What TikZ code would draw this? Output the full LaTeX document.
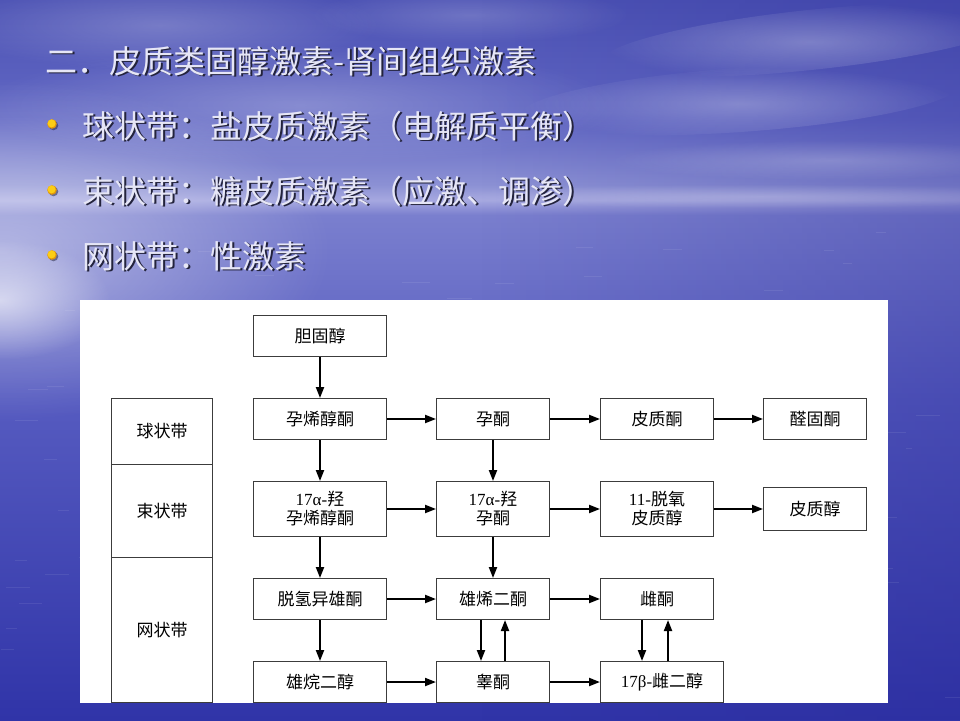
\documentclass[tikz,border=0pt]{standalone}
\usepackage{fontspec}
\setmainfont{Liberation Serif}
\newfontfamily\cjk{Noto Sans CJK SC}
\usetikzlibrary{arrows.meta,calc,fadings}

% sky and sea colours, from the top of the slide down
\definecolor{bgA}{RGB}{76,82,180}
\definecolor{bgB}{RGB}{98,104,196}
\definecolor{bgC}{RGB}{140,145,212}
\definecolor{bgD}{RGB}{166,168,224}
\definecolor{bgE}{RGB}{122,127,206}
\definecolor{bgF}{RGB}{86,91,192}
\definecolor{bgG}{RGB}{48,52,168}
\definecolor{deepblue}{RGB}{40,40,150}
\definecolor{slidefg}{RGB}{230,230,246}
\definecolor{slideshade}{RGB}{35,35,60}
\definecolor{dotyellow}{RGB}{252,205,20}
\definecolor{dotedge}{RGB}{225,150,10}
\definecolor{boxgray}{RGB}{60,60,60}

% the path fits the band 25bp..75bp of the shading
\pgfdeclareverticalshading{seasky}{100bp}{%
  color(0bp)=(bgG); color(25bp)=(bgG); color(47.2bp)=(bgF);
  color(60.07bp)=(bgE); color(61.1bp)=(bgD); color(62.15bp)=(bgC);
  color(66.67bp)=(bgB); color(75bp)=(bgA); color(100bp)=(bgA)}

\tikzfading[name=softspot, inner color=transparent!0, outer color=transparent!100]

\tikzset{
  slidetext/.style={anchor=west, inner sep=0pt, text=slidefg,
    font=\cjk\fontsize{32}{36}\selectfont},
  slideshadow/.style={slidetext, text=slideshade},
  haze/.style={fill=white, path fading=softspot},
  box/.style={draw=boxgray, line width=1pt, fill=white, inner sep=0pt,
    align=center, text=black, minimum height=41pt,
    font=\cjk\fontsize{17}{19}\selectfont},
  colA/.style={box, minimum width=133pt},
  colB/.style={box, minimum width=113pt},
  colC/.style={box, minimum width=113pt},
  colD/.style={box, minimum width=103pt},
  tall/.style={minimum height=55pt},
  zone/.style={box, minimum width=101pt},
  arr/.style={-{Triangle[length=11pt,width=8pt]}, line width=2pt, black},
}

\newcommand{\embossline}[4]{%
  \node[slideshadow] (#1s) at (#2+1.8,#3+1.8) {#4};
  \node[slidetext] (#1) at (#2,#3) {#4};}

\begin{document}
\begin{tikzpicture}[x=1pt,y=-1pt]
\useasboundingbox (0,0) rectangle (960,720);

% ---- background: sky over sea ----
\shade[shading=seasky] (0,0) rectangle (960,720);
\fill[deepblue, opacity=0.3, path fading=west] (480,0) rectangle (960,720);
\fill[haze, opacity=0.45] (0,250) ellipse (330 and 170);
\fill[haze, opacity=0.6] (0,300) ellipse (110 and 60);
\fill[haze, opacity=0.25] (300,105) ellipse (320 and 60);
\fill[haze, opacity=0.22] (160,25) ellipse (220 and 45);
\fill[haze, opacity=0.18] (470,15) ellipse (160 and 28);
\fill[haze, opacity=0.28, rotate around={6:(810,40)}] (810,40) ellipse (210 and 30);
\fill[haze, opacity=0.28, rotate around={4:(740,100)}] (740,100) ellipse (220 and 32);
\fill[haze, opacity=0.2] (830,160) ellipse (220 and 20);
\fill[haze, opacity=0.2] (760,196) ellipse (330 and 12);
% light ripples on the water
\pgfmathsetseed{11}
\foreach \i in {1,...,90}{
  \pgfmathsetmacro\rx{rnd*960}
  \pgfmathsetmacro\ry{230+rnd*480}
  \pgfmathsetmacro\rl{6+rnd*22}
  \draw[white, opacity=0.08, line width=1pt] (\rx,\ry) -- (\rx+\rl,\ry);
}

% ---- title and bullet lines ----
\embossline{title}{45}{61}{二．皮质类固醇激素-肾间组织激素}
\foreach \yy in {124,190,255}{
  \fill[slideshade, opacity=0.5] (53.5,\yy+1.5) circle (4.8);
  \fill[dotedge] (52,\yy) circle (4.8);
  \fill[dotyellow] (51.6,\yy-0.6) circle (4);
}
\embossline{lineA}{82}{126}{球状带：盐皮质激素（电解质平衡）}
\embossline{lineB}{82}{191}{束状带：糖皮质激素（应激、调渗）}
\embossline{lineC}{82}{256}{网状带：性激素}

% ---- steroid pathway chart ----
\fill[white] (80,300) rectangle (888,703);

\node[zone, minimum height=66pt]  (zg) at (162,431.5) {球状带};
\node[zone, minimum height=93pt]  (zf) at (162,511) {束状带};
\node[zone, minimum height=145pt] (zr) at (162,630) {网状带};

\node[colA] (chol)   at (320,336) {胆固醇};
\node[colA] (preg)   at (320,419) {孕烯醇酮};
\node[colA, tall] (ohpreg) at (320,509) {{\rmfamily 17α-}羟\\孕烯醇酮};
\node[colA] (dhea)   at (320,599) {脱氢异雄酮};
\node[colA] (adiol)  at (320,682) {雄烷二醇};

\node[colB] (prog)   at (493,419) {孕酮};
\node[colB, tall] (ohprog) at (493,509) {{\rmfamily 17α-}羟\\孕酮};
\node[colB] (adione) at (493,599) {雄烯二酮};
\node[colB] (testo)  at (493,682) {睾酮};

\node[colC] (cort)   at (657,419) {皮质酮};
\node[colC, tall] (deoxy) at (657,509) {{\rmfamily 11-}脱氧\\皮质醇};
\node[colC] (estrone) at (657,599) {雌酮};
\node[box, minimum width=123pt] (estradiol) at (662,682) {{\rmfamily 17β-}雌二醇};

\node[colD] (aldo)     at (815,419) {醛固酮};
\node[colD, minimum height=43pt] (cortisol) at (815,509) {皮质醇};

% vertical steps
\draw[arr] (chol) -- (preg);
\draw[arr] (preg) -- (ohpreg);
\draw[arr] (ohpreg) -- (dhea);
\draw[arr] (dhea) -- (adiol);
\draw[arr] (prog) -- (ohprog);
\draw[arr] (ohprog) -- (adione);
\draw[arr] ($(adione.south)+(-12,0)$) -- ($(testo.north)+(-12,0)$);
\draw[arr] ($(testo.north)+(12,0)$) -- ($(adione.south)+(12,0)$);
\draw[arr] ($(estrone.south)+(-15,0)$) -- ($(estrone.south |- estradiol.north)+(-15,0)$);
\draw[arr] ($(estrone.south |- estradiol.north)+(11,0)$) -- ($(estrone.south)+(11,0)$);

% horizontal steps
\draw[arr] (preg) -- (prog);
\draw[arr] (prog) -- (cort);
\draw[arr] (cort) -- (aldo);
\draw[arr] (ohpreg) -- (ohprog);
\draw[arr] (ohprog) -- (deoxy);
\draw[arr] (deoxy) -- (cortisol);
\draw[arr] (dhea) -- (adione);
\draw[arr] (adione) -- (estrone);
\draw[arr] (adiol) -- (testo);
\draw[arr] (testo) -- (estradiol.west);
\end{tikzpicture}
\end{document}
